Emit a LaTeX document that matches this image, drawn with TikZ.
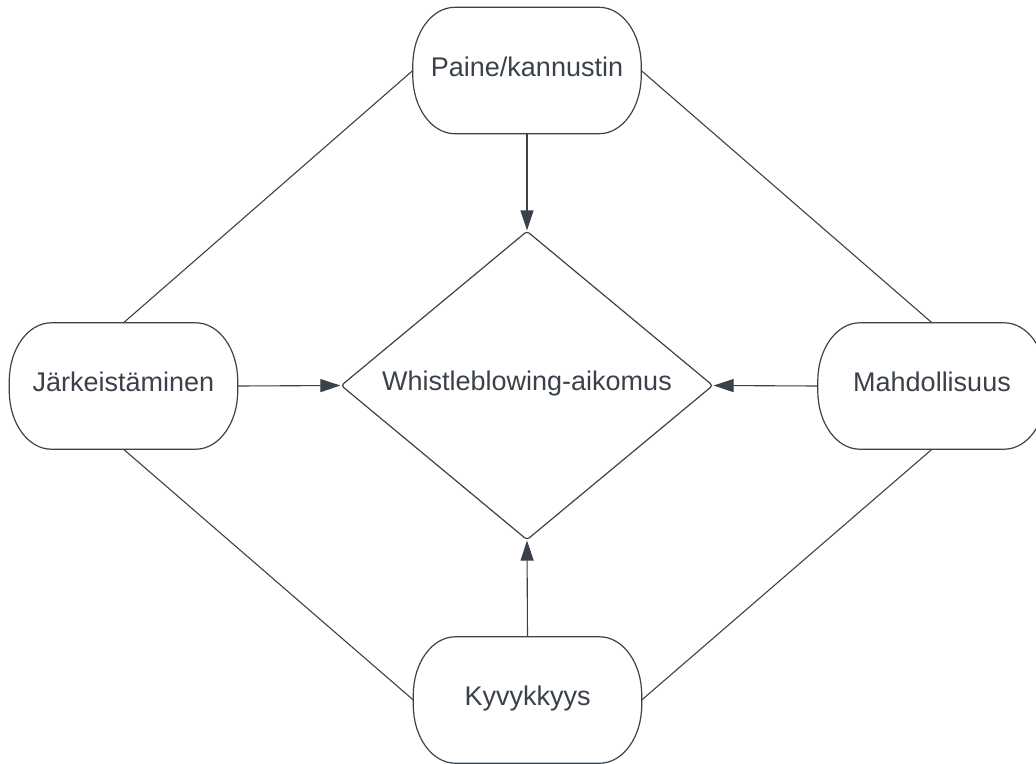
\documentclass[tikz,border=0pt]{standalone}
\usepackage{fontspec}
\setmainfont{Liberation Sans}
\usetikzlibrary{arrows.meta,shapes.geometric}
\definecolor{ink}{HTML}{3A414A}
\newcommand\pilloutline[1]{%
  \draw[pillline] ([xshift=42pt]#1.north west) -- ([xshift=-42pt]#1.north east)
    .. controls ([xshift=-18.8pt]#1.north east) and ([yshift=-26pt]#1.north east) .. ([yshift=-58pt]#1.north east)
    -- ([yshift=58pt]#1.south east)
    .. controls ([yshift=26pt]#1.south east) and ([xshift=-18.8pt]#1.south east) .. ([xshift=-42pt]#1.south east)
    -- ([xshift=42pt]#1.south west)
    .. controls ([xshift=18.8pt]#1.south west) and ([yshift=26pt]#1.south west) .. ([yshift=58pt]#1.south west)
    -- ([yshift=-58pt]#1.north west)
    .. controls ([yshift=-26pt]#1.north west) and ([xshift=18.8pt]#1.north west) .. cycle;}
\begin{document}
\begin{tikzpicture}[x=1pt,y=-1pt,
  every node/.style={text=ink,font=\fontsize{27}{32}\selectfont,inner sep=0pt,text height=19.3pt,text depth=0pt},
  pill/.style={rectangle,minimum width=228pt,minimum height=126pt},
  pillline/.style={draw=ink,line width=1.2pt},
  rhomb/.style={draw=ink,line width=1.2pt,diamond,rounded corners=3pt,minimum width=372pt,minimum height=297pt},
  link/.style={draw=ink,line width=1.1pt},
  arr/.style={link,-{Triangle[length=20pt,width=13pt]}}]
\useasboundingbox (0,0) rectangle (1036,763);
\node[rhomb] (d) at (527,385.5) {\raisebox{4.5pt}{Whistleblowing-aikomus}};
\node[pill] (t) at (527,70.5) {\raisebox{4pt}{Paine/kannustin}};
\node[pill] (l) at (123.5,386) {\raisebox{4pt}{Järkeistäminen}};
\node[pill] (r) at (932,386) {\raisebox{4pt}{Mahdollisuus}};
\node[pill] (b) at (527.5,700) {\raisebox{4pt}{Kyvykkyys}};
\pilloutline{t}
\pilloutline{l}
\pilloutline{r}
\pilloutline{b}
\draw[link] (t.west) -- (l.north);
\draw[link] (t.east) -- (r.north);
\draw[link] (l.south) -- (b.west);
\draw[link] (r.south) -- (b.east);
\draw[arr] (t.south) -- (d.north);
\draw[arr] (l.east) -- (d.west);
\draw[arr] (r.west) -- (d.east);
\draw[arr] (b.north) -- (d.south);
\end{tikzpicture}
\end{document}
